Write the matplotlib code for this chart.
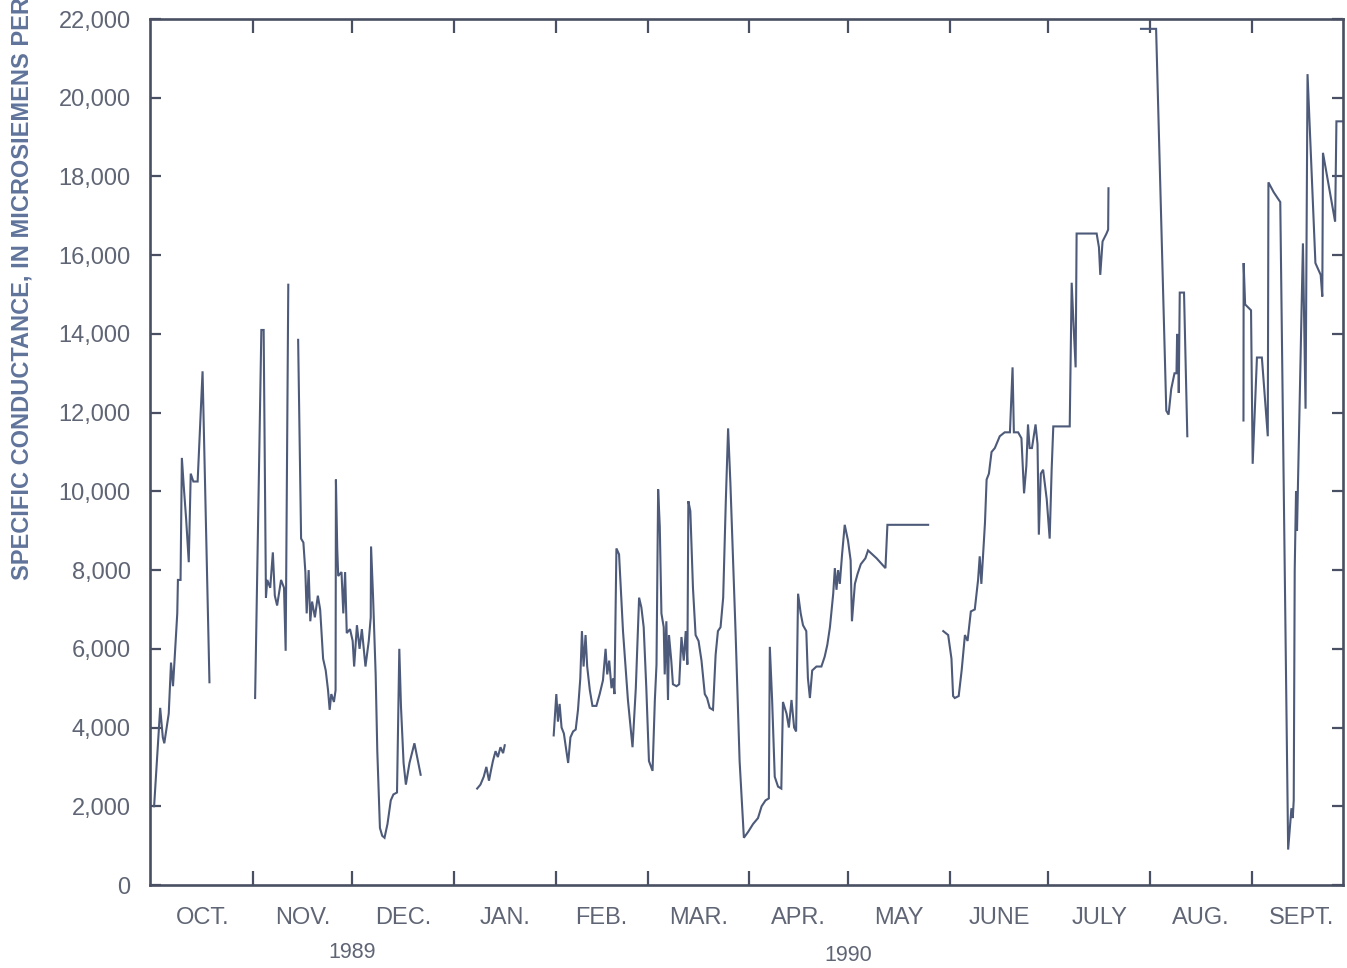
import matplotlib.pyplot as plt
import numpy as np
import pandas as pd

plt.rcParams['font.family'] = ['Liberation Sans', 'DejaVu Sans']

# Daily specific conductance, water year 1990 (Oct 1989 - Sept 1990).
# x = days after Oct 1, 1989; y = microsiemens per centimeter.
# Each pair is one unbroken stretch of record; gaps are missing record.
oct_days = [0.75, 2.6, 3.4, 3.85, 5.2, 5.9, 6.5, 7.0, 7.8, 8.0, 8.8, 9.2, 9.8,
            10.5, 11.3, 11.9, 12.7, 14.0, 15.5, 17.6]
oct_vals = [2000, 4500, 3750, 3600, 4350, 5650, 5050, 5750, 6900, 7750, 7750, 10850, 10100,
            9300, 8200, 10450, 10250, 10250, 13050, 5150]

nov_a_days = [31.5, 33.4, 34.1, 34.8, 35.2, 36.1, 36.9, 37.5, 38.2, 39.4, 40.3, 40.8, 41.6]
nov_a_vals = [4750, 14100, 14100, 7300, 7750, 7550, 8450, 7350, 7100, 7750, 7550, 5950, 15250]

nov_b_days = [44.6, 45.5, 46.2, 46.8, 47.2, 47.8, 48.3, 48.85, 49.7, 50.6,
              51.3, 52.2, 53.0, 53.7, 54.2, 54.7, 55.5, 56.0, 56.1, 56.5,
              56.8, 57.8, 58.35, 58.9, 59.4, 60.4, 61.2, 61.65, 62.5, 63.3,
              64.0, 65.1, 66.1, 66.7, 66.8, 67.4, 68.2, 68.7, 69.5, 70.2,
              70.9, 71.8, 72.8, 73.6, 74.7, 75.4, 75.9, 76.7, 77.4, 78.5,
              80.0, 81.9]
nov_b_vals = [13850, 8800, 8700, 7950, 6900, 8000, 6700, 7200, 6800, 7350,
              7000, 5750, 5450, 4950, 4450, 4850, 4650, 4950, 10300, 8550,
              7850, 7950, 6900, 7950, 6400, 6500, 6200, 5550, 6600, 6000,
              6500, 5550, 6200, 6800, 8600, 7350, 5350, 3400, 1450, 1250,
              1200, 1550, 2150, 2300, 2350, 6000, 4550, 3100, 2550, 3100,
              3600, 2800]

jan_days = [99.1, 100.1, 101.1, 101.9, 102.7, 103.4, 103.9, 104.7, 105.4, 106.2, 107.0, 107.5]
jan_vals = [2450, 2550, 2750, 3000, 2650, 2950, 3150, 3400, 3250, 3500, 3350, 3550]

feb_may_days = [122.4, 123.2, 123.7, 124.2, 124.8, 125.5, 126.1, 126.8, 127.5, 128.3,
                129.1, 129.8, 130.5, 131.0, 131.5, 132.1, 132.6, 133.4, 134.2, 135.4,
                136.4, 137.4, 138.2, 138.7, 139.3, 140.0, 140.5, 140.9, 141.5, 142.3,
                143.5, 145.0, 146.4, 147.4, 148.4, 149.1, 149.8, 150.6, 151.4, 152.5,
                153.2, 153.7, 154.2, 154.7, 155.2, 155.9, 156.2, 156.7, 157.2, 157.5,
                158.2, 158.7, 159.8, 160.6, 161.3, 162.0, 162.6, 163.1, 163.4, 164.0,
                164.8, 165.6, 166.5, 167.4, 168.4, 169.1, 169.9, 170.9, 171.7, 172.4,
                173.2, 174.0, 174.8, 175.5, 176.2, 177.8, 179.0, 180.3, 181.6, 183.1,
                184.6, 185.7, 186.9, 187.9, 188.2, 188.9, 189.7, 190.7, 191.7, 192.2,
                193.3, 194.0, 194.8, 195.6, 196.2, 196.8, 197.6, 198.3, 199.3, 199.8,
                200.4, 201.1, 202.4, 203.9, 204.9, 205.7, 206.5, 207.5, 208.0, 208.5,
                209.0, 209.5, 210.2, 211.0, 212.0, 212.8, 213.2, 214.1, 214.9, 215.9,
                217.3, 218.1, 220.7, 223.4, 224.0, 230.3, 236.4]
feb_may_vals = [3800, 4850, 4150, 4600, 4000, 3850, 3500, 3100, 3750, 3900,
                3950, 4450, 5250, 6450, 5550, 6350, 5550, 4950, 4550, 4550,
                4850, 5200, 6000, 5350, 5700, 5000, 5250, 4850, 8550, 8400,
                6450, 4700, 3500, 5000, 7300, 7050, 6550, 5000, 3150, 2900,
                4700, 5600, 10050, 9100, 6900, 6550, 5350, 6700, 4700, 6350,
                5700, 5100, 5050, 5100, 6300, 5700, 6450, 5600, 9750, 9500,
                7550, 6350, 6200, 5700, 4850, 4750, 4500, 4450, 5850, 6450,
                6550, 7300, 9750, 11600, 10200, 6350, 3150, 1200, 1350, 1550,
                1700, 2000, 2150, 2200, 6050, 4700, 2750, 2500, 2450, 4650,
                4350, 4000, 4700, 4000, 3900, 7400, 6900, 6600, 6450, 5250,
                4750, 5450, 5550, 5550, 5800, 6100, 6550, 7400, 8050, 7500,
                8000, 7650, 8400, 9150, 8750, 8250, 6700, 7650, 7900, 8150,
                8300, 8500, 8300, 8050, 9150, 9150, 9150]

jun_jul_days = [241.0, 242.5, 243.5, 244.0, 244.5, 245.7, 246.6, 247.6, 248.4, 249.4,
                250.6, 251.6, 252.1, 252.6, 253.1, 253.7, 254.2, 254.9, 255.7, 256.7,
                258.2, 259.7, 261.3, 262.1, 262.5, 263.8, 264.8, 265.6, 266.3, 266.8,
                267.3, 268.0, 269.1, 269.7, 270.1, 270.7, 271.4, 272.5, 273.4, 274.0,
                274.5, 279.5, 280.1, 280.6, 281.3, 281.6, 287.7, 288.4, 288.8, 289.5,
                290.7, 291.2, 291.3]
jun_jul_vals = [6450, 6350, 5750, 4800, 4750, 4800, 5450, 6350, 6200, 6950,
                7000, 7750, 8350, 7650, 8350, 9200, 10300, 10450, 11000, 11100,
                11400, 11500, 11500, 13150, 11500, 11500, 11350, 9950, 10650, 11700,
                11100, 11100, 11700, 11200, 8900, 10450, 10550, 9800, 8800, 10550,
                11650, 11650, 15300, 14350, 13150, 16550, 16550, 16200, 15500, 16350,
                16550, 16650, 17700]

aug_days = [301.2, 305.8, 308.9, 309.6, 310.4, 311.4, 312.0, 312.2, 312.6, 312.7,
            313.0, 314.3, 315.3]
aug_vals = [21750, 21750, 12050, 11950, 12600, 13000, 13000, 14000, 13400, 12500,
            15050, 15050, 11400]

sep_days = [332.4, 332.45, 332.9, 334.7, 335.2, 336.5, 338.0, 339.8, 340.0, 341.6,
            343.6, 346.0, 347.0, 347.4, 347.7, 348.0, 348.4, 348.7, 350.5, 351.3,
            351.9, 354.3, 355.9, 356.4, 356.6, 360.3, 360.7, 362.6]
sep_vals = [11800, 15800, 14750, 14600, 10700, 13400, 13400, 11400, 17850, 17600,
            17350, 900, 1950, 1700, 2150, 8000, 10000, 9000, 16300, 12100,
            20600, 15800, 15500, 14950, 18600, 16850, 19400, 19400]

month_names = ['OCT.', 'NOV.', 'DEC.', 'JAN.', 'FEB.', 'MAR.', 'APR.', 'MAY',
               'JUNE', 'JULY', 'AUG.', 'SEPT.']
year_labels = ['1989', '1990']
y_ticks = list(range(0, 22001, 2000))

ink = '#4d5a79'
axis_ink = '#4a5063'
label_ink = '#5f6574'


def month_edges() -> np.ndarray:
    start = pd.Timestamp('1989-10-01')
    edges = pd.date_range(start, periods=13, freq='MS')
    return np.array((edges - start).days, dtype=float)


def generate_plot() -> None:
    fig = plt.figure(figsize=(13.47, 9.68), dpi=100)
    ax = fig.add_axes([150 / 1347, 1 - 885 / 968, 1193 / 1347, 866 / 968])

    segments = [(oct_days, oct_vals), (nov_a_days, nov_a_vals), (nov_b_days, nov_b_vals),
                (jan_days, jan_vals), (feb_may_days, feb_may_vals),
                (jun_jul_days, jun_jul_vals), (aug_days, aug_vals), (sep_days, sep_vals)]
    for days, vals in segments:
        ax.plot(days, vals, color=ink, linewidth=1.5, solid_joinstyle='miter')

    edges = month_edges()
    mids = (edges[:-1] + edges[1:]) / 2

    ax.set_xlim(-0.5, 362.7)
    ax.set_ylim(0, 22000)

    # month boundaries as inward ticks top and bottom, names centred in each month
    ax.set_xticks(edges[1:-1])
    ax.set_xticklabels([])
    ax.set_xticks(mids, minor=True)
    ax.set_xticklabels(month_names, minor=True)
    ax.tick_params(axis='x', which='major', direction='in', length=10, width=1.6,
                   color=axis_ink, top=True)
    ax.tick_params(axis='x', which='minor', length=0, pad=16, labelsize=17,
                   labelcolor=label_ink)

    ax.set_yticks(y_ticks)
    ax.set_yticklabels([f'{v:,}' for v in y_ticks])
    ax.tick_params(axis='y', direction='in', length=8, width=1.6, color=axis_ink,
                   right=True, pad=14, labelsize=17, labelcolor=label_ink)

    for spine in ax.spines.values():
        spine.set_color(axis_ink)
        spine.set_linewidth(1.9)

    # water-year labels under the month names
    ax.text(edges[2], -0.0785, year_labels[0], transform=ax.get_xaxis_transform(),
            ha='center', va='center', fontsize=15.5, color=label_ink)
    ax.text(edges[7], -0.081, year_labels[1], transform=ax.get_xaxis_transform(),
            ha='center', va='center', fontsize=15.5, color=label_ink)

    fig.text(22 / 1347, 1 - 580 / 968,
             'SPECIFIC CONDUCTANCE, IN MICROSIEMENS PER CENTIMETER AT 25 DEGREES CELSIUS',
             rotation=90, ha='center', va='bottom', fontsize=17, fontweight='bold',
             color='#60739a')

    fig.savefig('out.png', dpi=100)
    plt.close(fig)


if __name__ == '__main__':
    generate_plot()
